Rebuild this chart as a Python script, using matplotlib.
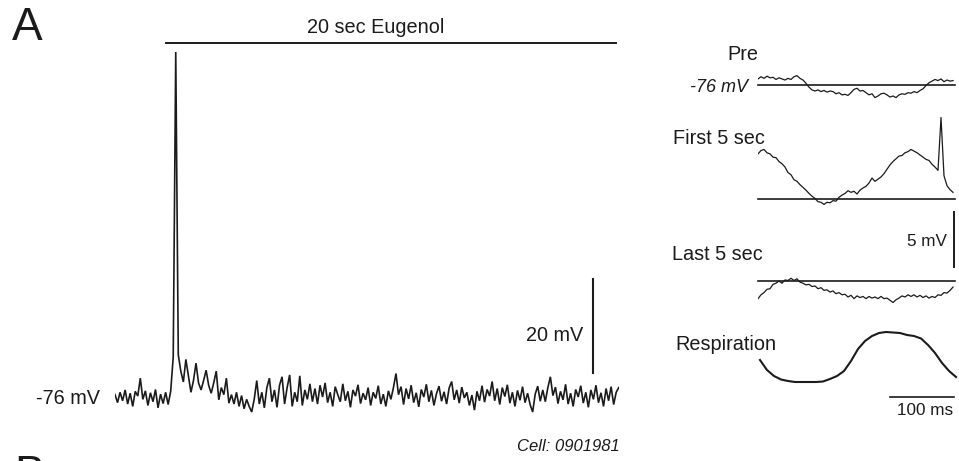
import numpy as np
import matplotlib
matplotlib.use("Agg")
import matplotlib.pyplot as plt

plt.rcParams['font.family'] = ['Liberation Sans', 'DejaVu Sans']

# ---------------- data ----------------
REST_MV = -76.0
MAIN_DT_S = 0.1125          # sampling step of the long recording (s)
EUGENOL_ON_S = 2.27         # odor onset (s)
EUGENOL_DUR_S = 20.0        # odor duration (s)
SCALE_MV = 20.0             # vertical scale bar, long trace
SCALE_T_S = 21.24

# membrane potential, deviation from rest (mV)
main_dev = [
    0.5, -1.2, 1.0, -0.8, 1.5, -1.5, 0.8, -2.0, 1.2, 0.2,
    4.0, -0.5, 1.3, -1.8, 0.9, -1.0, 1.6, -2.3, 0.6, -1.4,
    1.0, -1.6, 1.2, 8.5, 73.4, 9.0, 5.5, 3.2, 8.0, 4.5,
    1.0, 3.5, 7.2, 3.0, 1.5, 3.5, 5.7, 2.5, 0.8, 3.0,
    5.5, -0.6, 2.0, 0.5, 4.0, -1.3, 0.5, -1.5, 1.0, -2.0,
    0.3, -2.5, -0.5, -2.0, -3.2, -0.5, 3.5, -1.5, 1.0, -2.3,
    2.0, 4.0, -1.0, 1.5, -2.2, 2.5, 4.3, -1.5, 2.0, 4.7,
    -2.0, 1.0, -1.0, 4.5, -1.8, 1.5, -0.5, 2.8, -1.0, 1.8,
    -1.5, 2.5, 0.0, 3.0, -1.2, 1.0, -2.0, 2.2, 0.5, -1.0,
    2.8, -0.8, 1.2, -2.2, 1.5, 0.2, 2.6, -1.4, 0.8, -0.6,
    2.0, -1.8, 1.0, -0.3, 2.4, -1.5, 0.6, -2.0, 1.3, -0.5,
    2.0, 5.0, 0.5, 2.2, -1.6, 1.8, -0.4, 2.5, -1.2, 0.9,
    -2.1, 1.6, 0.0, 2.7, -1.0, 1.4, -1.8, 0.7, 2.3, -0.9,
    1.1, -1.5, 1.9, 3.3, -0.6, 1.5, -1.3, 2.1, -0.2, 1.0,
    -1.8, 0.4, -2.8, 1.2, -0.8, 2.4, -1.1, 1.6, 0.2, 3.3,
    -0.8, 1.8, -1.6, 2.0, 0.1, 2.6, -1.3, 1.0, -2.0, 1.4,
    -0.7, 2.2, -1.2, 0.8, -1.6, -3.2, 0.6, 2.3, -0.9, 1.5,
    -1.0, 2.0, 4.3, 0.3, 2.1, -1.4, 1.2, -0.6, 2.7, -1.5,
    0.8, -2.0, 1.6, 0.0, 2.4, -1.3, 1.0, -2.2, 1.5, -0.5,
    2.5, -1.2, 0.9, -2.0, 1.8, -0.8, 2.2, -1.6, 1.0, 2.0,
]

# expanded single respiratory cycles (deviation from rest, mV)
INSET_DT_MS = 4.6875
pre_dev = [
    0.55, 0.75, 0.6, 0.8, 0.65, 0.7, 0.5, 0.65, 0.55, 0.45,
    0.6, 0.5, 0.75, 0.85, 0.6, 0.45, 0.15, -0.2, -0.45, -0.55,
    -0.45, -0.6, -0.5, -0.65, -0.55, -0.6, -0.8, -0.7, -0.9, -0.85,
    -0.95, -0.7, -0.4, -0.3, -0.55, -0.5, -0.7, -0.9, -0.8, -1.15,
    -1.0, -0.8, -0.75, -0.9, -1.1, -1.0, -1.15, -0.9, -0.8, -0.85,
    -0.7, -0.75, -0.6, -0.7, -0.5, -0.35, -0.05, 0.2, 0.35, 0.5,
    0.4, 0.55, 0.3, 0.45, 0.35, 0.4,
]
first_dev = [
    4.1, 4.4, 4.5, 4.2, 4.1, 3.8, 3.75, 3.4, 3.2, 2.9,
    2.4, 2.2, 1.75, 1.6, 1.3, 1.05, 0.8, 0.5, 0.25, 0.05,
    -0.25, -0.3, -0.5, -0.3, -0.35, -0.15, -0.2, 0.15, 0.35, 0.5,
    0.75, 0.6, 0.7, 0.45, 0.8, 1.0, 1.15, 1.45, 1.9, 1.6,
    1.8, 2.0, 2.3, 2.7, 3.1, 3.4, 3.65, 3.9, 3.95, 4.2,
    4.3, 4.5, 4.35, 4.2, 4.0, 3.8, 3.6, 3.5, 3.15, 2.9,
    2.6, 7.4, 2.1, 1.2, 0.85, 0.6,
]
last_dev = [
    -1.6, -1.25, -1.05, -0.75, -0.7, -0.3, -0.2, 0.0, -0.2, 0.1,
    0.05, 0.25, 0.05, 0.2, -0.1, -0.2, -0.35, -0.3, -0.5, -0.45,
    -0.7, -0.6, -0.85, -0.8, -1.0, -0.9, -1.15, -1.05, -1.25, -1.2,
    -1.45, -1.3, -1.6, -1.35, -1.5, -1.4, -1.6, -1.4, -1.55, -1.45,
    -1.6, -1.4, -1.6, -1.55, -1.75, -1.95, -1.7, -1.55, -1.35, -1.45,
    -1.25, -1.4, -1.25, -1.45, -1.3, -1.5, -1.35, -1.55, -1.4, -1.5,
    -1.25, -1.3, -1.05, -1.1, -0.85, -0.55,
]

# respiration (arbitrary units)
RESP_T0_MS = 3.1
RESP_DT_MS = 10.94
respiration = [
    0.44, 0.24, 0.12, 0.05, 0.02, 0.0, 0.0, 0.0, 0.0, 0.01,
    0.06, 0.12, 0.22, 0.42, 0.66, 0.82, 0.92, 0.98, 1.0, 0.99,
    0.98, 0.94, 0.92, 0.87, 0.74, 0.58, 0.38, 0.22, 0.10,
]

INSET_SCALE_MV = 5.0
INSET_SCALE_MS = 100.0

# ---------------- figure ----------------
W, H = 959, 461
fig = plt.figure(figsize=(W / 100, H / 100), dpi=100)
INK = '#1b1b1b'
FS = 14.3


def box(left, top, right, bottom):
    return [left / W, 1 - bottom / H, (right - left) / W, (bottom - top) / H]


def ftext(px, py, s, **kw):
    kw.setdefault('fontsize', FS)
    kw.setdefault('color', INK)
    kw.setdefault('va', 'baseline')
    fig.text(px / W, 1 - py / H, s, **kw)


# long recording
ax = fig.add_axes(box(115, 20, 619, 440))
ax.set_xlim(0, 22.4)
ax.set_ylim(-85.15, 4.21)
ax.axis('off')

t_main = np.arange(len(main_dev)) * MAIN_DT_S
ax.plot(t_main, REST_MV + np.asarray(main_dev), color=INK, lw=1.2,
        solid_joinstyle='miter')
ax.plot([EUGENOL_ON_S, EUGENOL_ON_S + EUGENOL_DUR_S], [-0.62, -0.62],
        color=INK, lw=1.4, clip_on=False)
ax.plot([SCALE_T_S, SCALE_T_S], [-70.9, -70.9 + SCALE_MV], color=INK, lw=1.5)

ftext(12, 40, 'A', fontsize=33)
ftext(14, 488, 'B', fontsize=33)
ftext(376, 33, '20 sec Eugenol', ha='center')
ftext(100, 404, '-76 mV', ha='right')
ftext(583, 341, '20 mV', ha='right')
ftext(620, 451, 'Cell: 0901981', ha='right', fontsize=12, style='italic')

# expanded cycles
ax2 = fig.add_axes(box(758, 60, 955, 420))
ax2.set_xlim(0, 307.8)
ax2.set_ylim(-30.45, 2.27)
ax2.axis('off')

t_in = np.arange(len(pre_dev)) * INSET_DT_MS
for dev, off in ((pre_dev, 0.0), (first_dev, -10.36), (last_dev, -17.82)):
    ax2.plot([0, 307.8], [off, off], color=INK, lw=1.2, clip_on=False)
    ax2.plot(t_in, off + np.asarray(dev), color=INK, lw=0.9)

ax2.plot([306.25, 306.25], [-16.55, -16.55 + INSET_SCALE_MV], color=INK, lw=1.4,
         clip_on=False)
ax2.plot([306.25 - INSET_SCALE_MS, 306.25], [-28.36, -28.36], color=INK, lw=1.2,
         clip_on=False)

axr = ax2.twinx()
axr.set_ylim(-0.76, 6.44)
axr.axis('off')
t_resp = RESP_T0_MS + np.arange(len(respiration)) * RESP_DT_MS
axr.plot(t_resp, respiration, color=INK, lw=1.5, clip_on=False)

ftext(727, 60, 'Pre')
ftext(748, 92, '-76 mV', ha='right', fontsize=13, style='italic')
ftext(673, 144, 'First 5 sec')
ftext(672, 260, 'Last 5 sec')
ftext(675, 350, 'Respiration')
ftext(947, 246, '5 mV', ha='right', fontsize=12.3)
ftext(925, 415, '100 ms', ha='center', fontsize=12.3)

fig.savefig('out.png', dpi=100)
